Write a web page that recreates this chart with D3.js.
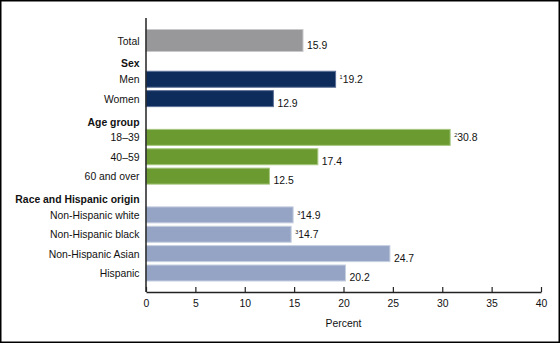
<!DOCTYPE html>
<html>
<head>
<meta charset="utf-8">
<script src="https://cdn.jsdelivr.net/npm/d3@7"></script>
<style>
  html, body { margin: 0; padding: 0; background: #fff; }
  svg { display: block; font-family: "Liberation Sans", Arial, sans-serif; }
</style>
</head>
<body>
<div id="chart"></div>
<script>
// rows top to bottom; headers have no value
var rows = ["Total", "Sex", "Men", "Women", "Age group", "18–39", "40–59", "60 and over",
            "Race and Hispanic origin", "Non-Hispanic white", "Non-Hispanic black", "Non-Hispanic Asian", "Hispanic"];
var headers = ["Sex", "Age group", "Race and Hispanic origin"];
var categories = ["Total", "Men", "Women", "18–39", "40–59", "60 and over",
                  "Non-Hispanic white", "Non-Hispanic black", "Non-Hispanic Asian", "Hispanic"];
var values = [15.9, 19.2, 12.9, 30.8, 17.4, 12.5, 14.9, 14.7, 24.7, 20.2];
var notes = ["", "1", "", "2", "", "", "3", "3", "", ""];
var groups = ["total", "sex", "sex", "age", "age", "age", "race", "race", "race", "race"];
var xTicks = [0, 5, 10, 15, 20, 25, 30, 35, 40];

var fills = { total: "#98989b", sex: "#0d2c5c", age: "#6b9b30", race: "#95a4c5" };
var strokes = { total: "#c9c9cb", sex: "#5d7196", age: "#a6c67f", race: "#c6cfe0" };

var fs = 10.4;
var width = 560, height = 343;
var svg = d3.select("#chart").append("svg")
    .attr("width", width).attr("height", height);

// outer frame
svg.append("rect")
    .attr("x", 0.75).attr("y", 0.75)
    .attr("width", width - 1.5).attr("height", height - 1.5)
    .attr("fill", "none").attr("stroke", "#000").attr("stroke-width", 1.5);

var x = d3.scaleLinear().domain([0, 40]).range([146, 541]);
var y = d3.scalePoint().domain(rows).range([40.5, 273]);

var data = categories.map(function(c, i) {
    return { name: c, value: values[i], note: notes[i], group: groups[i] };
});

// bars
svg.selectAll("rect.bar").data(data).enter().append("rect")
    .attr("class", "bar")
    .attr("x", x(0))
    .attr("y", function(d) { return y(d.name) - (d.group == "total" ? 11 : 8); })
    .attr("width", function(d) { return x(d.value) - x(0); })
    .attr("height", function(d) { return d.group == "total" ? 22 : 16; })
    .attr("fill", function(d) { return fills[d.group]; })
    .attr("stroke", function(d) { return strokes[d.group]; })
    .attr("stroke-width", 1);

// value labels with footnote markers
var lab = svg.selectAll("text.val").data(data).enter().append("text")
    .attr("class", "val")
    .attr("x", function(d) { return x(d.value) + 4; })
    .attr("y", function(d) { return y(d.name) + 4; })
    .attr("font-size", fs)
    .attr("fill", "#111");
lab.append("tspan")
    .attr("font-size", 5.5)
    .attr("dy", -4)
    .text(function(d) { return d.note; });
lab.append("tspan")
    .attr("dy", 4)
    .text(function(d) { return d.value.toFixed(1); });

// category labels and group headers
svg.selectAll("text.cat").data(rows).enter().append("text")
    .attr("class", "cat")
    .attr("x", 139.5)
    .attr("y", function(d) { return y(d) + (headers.indexOf(d) >= 0 ? 7.5 : 4); })
    .attr("text-anchor", "end")
    .attr("font-size", fs)
    .attr("font-weight", function(d) { return headers.indexOf(d) >= 0 ? "bold" : "normal"; })
    .attr("fill", "#111")
    .text(function(d) { return d; });

// x axis with ticks pointing up
var xAxis = svg.append("g")
    .attr("transform", "translate(0,292)")
    .call(d3.axisBottom(x).tickValues(xTicks).tickSize(-5).tickSizeOuter(0).tickPadding(8));
xAxis.select(".domain").attr("stroke", "#222").attr("stroke-width", 1.5);
xAxis.selectAll(".tick line").attr("stroke", "#222").attr("stroke-width", 1.2);
xAxis.selectAll(".tick text")
    .attr("font-size", fs)
    .attr("font-family", "Liberation Sans, Arial, sans-serif")
    .attr("fill", "#111");

// vertical baseline
svg.append("line")
    .attr("x1", x(0)).attr("x2", x(0))
    .attr("y1", 18).attr("y2", 292)
    .attr("stroke", "#222").attr("stroke-width", 1.5);

svg.append("text")
    .attr("x", (x(0) + x(40)) / 2)
    .attr("y", 327)
    .attr("text-anchor", "middle")
    .attr("font-size", fs)
    .attr("fill", "#111")
    .text("Percent");
</script>
</body>
</html>
